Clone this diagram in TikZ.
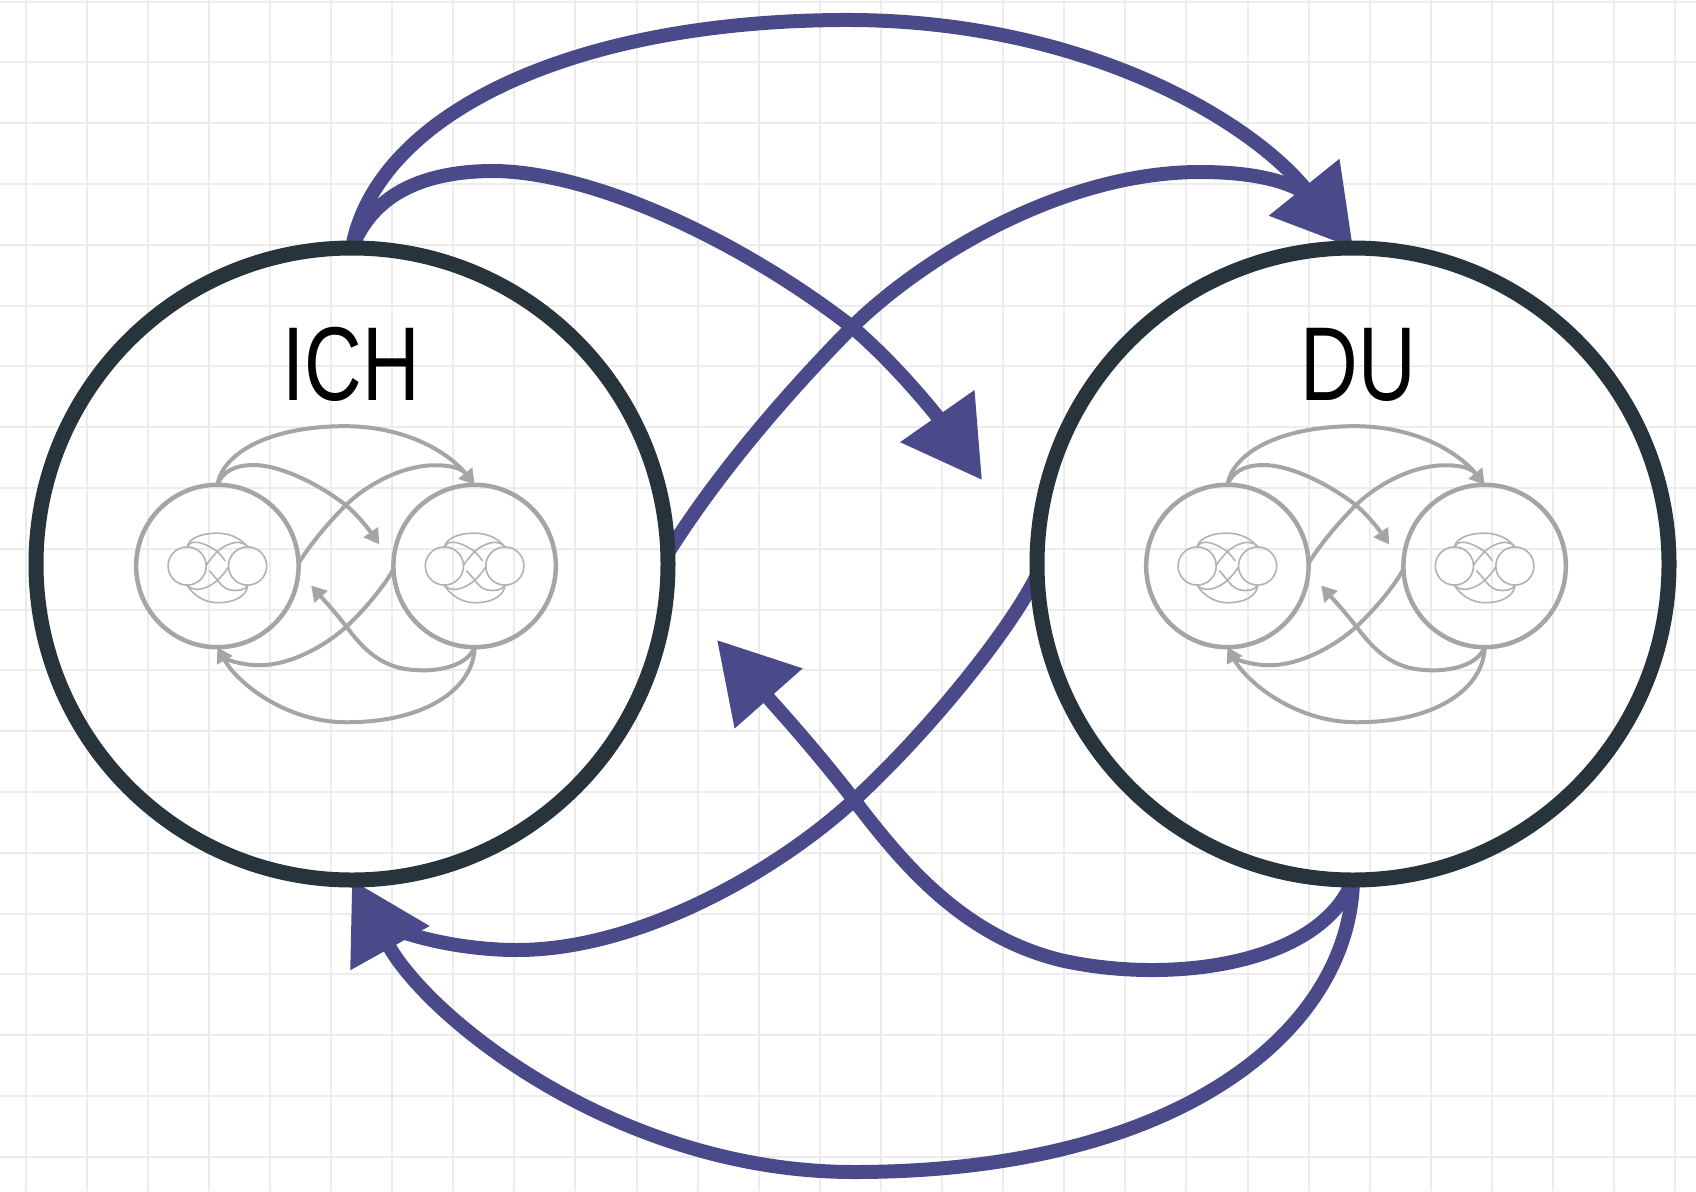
\documentclass[tikz,border=0pt]{standalone}
\usepackage{fontspec}
\setmainfont{Liberation Sans}
\usetikzlibrary{arrows.meta}
\pgfdeclarelayer{gridlayer}
\pgfdeclarelayer{arrowlayer}
\pgfsetlayers{gridlayer,arrowlayer,main}
\definecolor{ringcol}{RGB}{40,52,60}
\definecolor{arrowcol}{RGB}{74,74,138}
\definecolor{ghost}{RGB}{165,165,165}
\definecolor{ghostlight}{RGB}{178,178,178}
\definecolor{gridcol}{RGB}{236,236,236}
\tikzset{
  mainhead/.style={-{Triangle[length=78pt,width=87pt]}},
  smallhead/.style={-{Triangle[length=15pt,width=17pt]}},
  nohead/.style={},
  ring/.style={circle, inner sep=0pt, outer sep=0pt, minimum size=632pt, transform shape},
  label/.style={font=\fontsize{105}{110}\selectfont, anchor=base, inner sep=0pt},
}
% diagram with named nodes
\newcommand\loopdiagram[6]{%
  \node[ring, draw=#2, line width=#4] (#1L) at (352,564) {};
  \node[ring, draw=#2, line width=#4] (#1R) at (1353,564) {};
  \coordinate (#1tipA) at (982,480);
  \coordinate (#1tipB) at (717,640);
  \coordinate (#1inR) at (1315,200);
  \coordinate (#1inL) at (386,926);
  \begin{pgfonlayer}{arrowlayer}
    \draw[draw=#3, line width=#5, #6] (#1L.north) .. controls (375,120) and (560,22) .. (840,20)
       .. controls (1080,18) and (1250,120) .. (#1R.north);
    \draw[draw=#3, line width=#5, #6] (#1L.north) .. controls (372,196) and (420,172) .. (490,171)
       .. controls (590,170) and (740,240) .. (852,327)
       .. controls (900,368) and (940,420) .. (#1tipA);
    \draw[draw=#3, line width=#5] (#1L.2) .. controls (720,470) and (790,390) .. (852,327)
       .. controls (920,260) and (1060,172) .. (1200,172)
       .. controls (1250,172) and (1292,180) .. (#1inR);
    \draw[draw=#3, line width=#5] (#1R.182) .. controls (1010,630) and (930,730) .. (854,800)
       .. controls (778,870) and (640,950) .. (517,950)
       .. controls (470,950) and (420,940) .. (#1inL);
    \draw[draw=#3, line width=#5, #6] (#1R.south) .. controls (1320,965) and (1170,985) .. (1060,960)
       .. controls (960,935) and (900,860) .. (854,800)
       .. controls (814,748) and (770,700) .. (#1tipB);
    \draw[draw=#3, line width=#5, #6] (#1R.south) .. controls (1350,1030) and (1180,1172) .. (854,1172)
       .. controls (620,1172) and (430,1020) .. (#1L.south);
  \end{pgfonlayer}
}
% tiny copy drawn with plain coordinates (no node references)
\newcommand\tinydiagram[2]{%
  \begin{scope}[color=#1]
    \draw[line width=#2] (352,564) circle[radius=316];
    \draw[line width=#2] (1353,564) circle[radius=316];
    \draw[line width=#2] (352,248) .. controls (375,120) and (560,22) .. (840,20)
       .. controls (1080,18) and (1250,120) .. (1353,248);
    \draw[line width=#2] (352,248) .. controls (372,196) and (420,172) .. (490,171)
       .. controls (590,170) and (740,240) .. (852,327)
       .. controls (900,368) and (940,420) .. (982,480);
    \draw[line width=#2] (667.8,553) .. controls (720,470) and (790,390) .. (852,327)
       .. controls (920,260) and (1060,172) .. (1200,172)
       .. controls (1260,172) and (1310,198) .. (1353,248);
    \draw[line width=#2] (1037.2,575) .. controls (1010,630) and (930,730) .. (854,800)
       .. controls (778,870) and (640,950) .. (517,950)
       .. controls (450,950) and (390,925) .. (352,880);
    \draw[line width=#2] (1353,880) .. controls (1320,965) and (1170,985) .. (1060,960)
       .. controls (960,935) and (900,860) .. (854,800)
       .. controls (814,748) and (770,700) .. (717,640);
    \draw[line width=#2] (1353,880) .. controls (1350,1030) and (1180,1172) .. (854,1172)
       .. controls (620,1172) and (430,1020) .. (352,880);
  \end{scope}
}
\begin{document}
\begin{tikzpicture}[x=1pt,y=-1pt]
\useasboundingbox (0,0) rectangle (1696,1191);
\begin{pgfonlayer}{gridlayer}
  \fill[white] (0,0) rectangle (1696,1191);
  \foreach \i in {0,...,27} \draw[gridcol, line width=2pt] ({25.5+61.1*\i},0) -- ({25.5+61.1*\i},1191);
  \foreach \j in {0,...,19} \draw[gridcol, line width=2pt] (0,{1.5+60.8*\j}) -- (1696,{1.5+60.8*\j});
\end{pgfonlayer}
\loopdiagram{m}{ringcol}{arrowcol}{15pt}{14pt}{mainhead}
\node[label] (ich) at (351,400) {\scalebox{0.76}[1]{ICH}};
\node[label] (du) at (1358,400) {\scalebox{0.76}[1]{DU}};
% inner copy in ICH
\begin{scope}[shift={(346,566)}, scale=0.257, shift={(-852.5,-564)}]
  \loopdiagram{a}{ghost}{ghost}{4.5pt}{4pt}{smallhead}
  \begin{scope}[shift={(352,564)}, scale=0.235, shift={(-852.5,-564)}]
    \tinydiagram{ghostlight}{1.6pt}
  \end{scope}
  \begin{scope}[shift={(1353,564)}, scale=0.235, shift={(-852.5,-564)}]
    \tinydiagram{ghostlight}{1.6pt}
  \end{scope}
\end{scope}
% inner copy in DU
\begin{scope}[shift={(1356,566)}, scale=0.257, shift={(-852.5,-564)}]
  \loopdiagram{b}{ghost}{ghost}{4.5pt}{4pt}{smallhead}
  \begin{scope}[shift={(352,564)}, scale=0.235, shift={(-852.5,-564)}]
    \tinydiagram{ghostlight}{1.6pt}
  \end{scope}
  \begin{scope}[shift={(1353,564)}, scale=0.235, shift={(-852.5,-564)}]
    \tinydiagram{ghostlight}{1.6pt}
  \end{scope}
\end{scope}
\end{tikzpicture}
\end{document}
